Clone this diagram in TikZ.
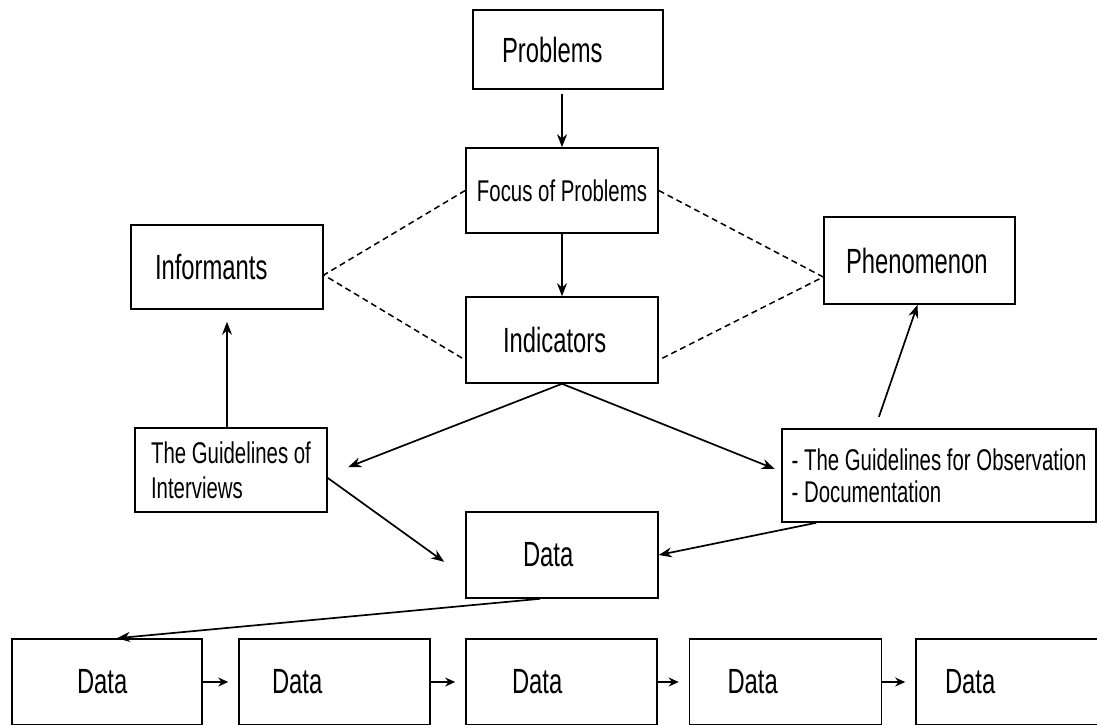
\documentclass[tikz,border=0pt]{standalone}
\usepackage{fontspec}
\setmainfont{Liberation Sans}[FakeStretch=0.68]
\usetikzlibrary{arrows.meta}
\begin{document}
\begin{tikzpicture}
            [x=1pt, y=-1pt,
            box/.style={draw=black, line width=1.6pt, rectangle, inner ysep=2pt, minimum height=86pt},
            txtpad/.style 2 args={text width=#1pt, inner xsep=#2pt, align=left},
            arr/.style={draw=black, line width=1.7pt, -{Stealth[length=13pt, width=10pt]}},
            smallarr/.style={draw=black, line width=1.7pt, -{Stealth[length=10pt, width=9pt]}},
            dashline/.style={draw=black, line width=1.5pt, dash pattern=on 6pt off 4pt},
            bigtext/.style={font=\fontsize{35}{40}\selectfont},
            smalltext/.style={font=\fontsize{30}{35}\selectfont}]
            \useasboundingbox (0,0) rectangle (1097,725);
            % upper column
            \node [box, bigtext, minimum height=79pt, txtpad={132}{29}] (problems) at (568,49.5) {Problems};
            \node [box, smalltext, minimum height=85pt, minimum width=192pt, align=center] (focus) at (562,190.5) {Focus of Problems};
            \node [box, bigtext, txtpad={118}{37}] (indicators) at (562,340) {Indicators};
            \node [box, bigtext, minimum height=84pt, txtpad={144}{24}] (informants) at (227,267) {Informants};
            \node [box, bigtext, minimum height=87pt, txtpad={147}{22}] (phenomenon) at (919.5,260.5) {Phenomenon};
            % instruments
            \node [box, smalltext, minimum height=84pt, minimum width=192pt, align=left] (guideint) at (231,470) {The Guidelines of\\Interviews};
            \node [box, font=\fontsize{30}{32}\selectfont, minimum height=93pt, minimum width=314pt, align=left] (guideobs) at (939,475.5) {- The Guidelines for Observation\\- Documentation};
            \node [box, bigtext, txtpad={78}{57}] (data) at (562,555) {Data};
            % bottom row
            \foreach \cx/\tw/\pd [count=\i] in {107/60/65, 334.5/125/33, 561.5/99/46, 785.5/116/38, 1012/134/29}
                \node [box, bigtext, txtpad={\tw}{\pd}] (row\i) at (\cx,682) {Data};
            \foreach \i/\j in {1/2, 2/3, 3/4, 4/5}
                \draw [smallarr, shorten >=10pt] (row\i) -- (row\j);
            % connectors
            \draw [arr, shorten <=4pt] (problems.south -| focus.north) -- (focus.north);
            \draw [arr] (focus) -- (indicators);
            \draw [arr, shorten >=22pt] (indicators.south) -- ([yshift=-5pt]guideint.east);
            \draw [arr, shorten >=7pt] (indicators.south) -- ([yshift=4pt]guideobs.west);
            \draw [arr, shorten >=12pt] (guideint.north -| informants.south) -- (informants.south);
            \draw [arr, shorten <=12pt] ([xshift=-64pt]guideobs.north) -- ([xshift=-2pt]phenomenon.south);
            \draw [arr, shorten >=26pt] ([yshift=-8pt]guideint.east) -- ([yshift=-22pt]data.west);
            \draw [arr] ([xshift=35pt]guideobs.south west) -- (data.east);
            \draw [arr] ([xshift=-22pt]data.south) -- ([xshift=10pt]row1.north);
            % dashed links
            \draw [dashline] (focus.west) -- ([yshift=-8pt]informants.east) -- ([yshift=-20pt]indicators.west);
            \draw [dashline] (focus.east) -- ([yshift=-16.5pt]phenomenon.west) -- ([yshift=-20pt]indicators.east);
\end{tikzpicture}
\end{document}
